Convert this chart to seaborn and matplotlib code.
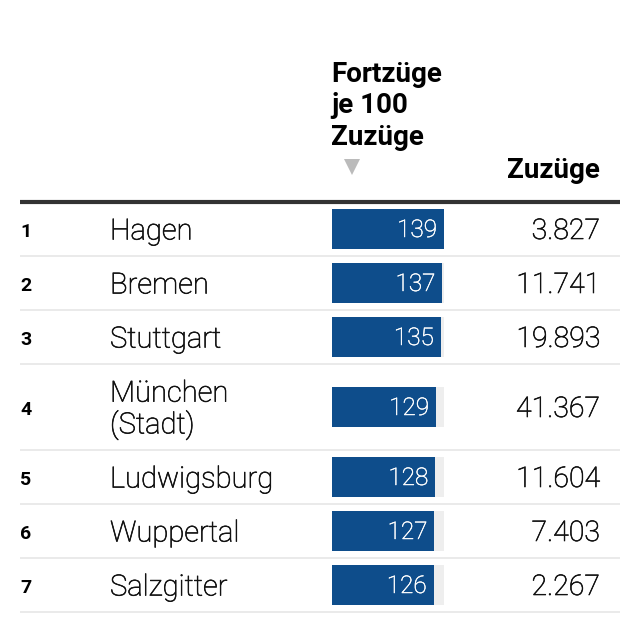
import matplotlib
matplotlib.use("Agg")
import matplotlib.pyplot as plt
import matplotlib.patheffects as pe
import seaborn as sns
import pandas as pd
import numpy as np

# ---- data ----
ranks = [1, 2, 3, 4, 5, 6, 7]
cities = ["Hagen", "Bremen", "Stuttgart", "München\n(Stadt)", "Ludwigsburg", "Wuppertal", "Salzgitter"]
fortzuege_je_100 = [139, 137, 135, 129, 128, 127, 126]
zuzuege = [3827, 11741, 19893, 41367, 11604, 7403, 2267]
header_ratio = ["Fortzüge", "je 100", "Zuzüge"]
header_zuzuege = "Zuzüge"

sns.set_style("white")
plt.rcParams["font.family"] = ["Roboto", "DejaVu Sans"]

W = H = 640
fig = plt.figure(figsize=(6.4, 6.4), dpi=100)

# layout (pixels)
top_line = 202
line_h = 32
pad = 22
heights = [pad + line_h * (c.count("\n") + 1) for c in cities]
tops = top_line + np.concatenate([[0], np.cumsum(heights)[:-1]])
bottoms = tops + np.array(heights)
centers = tops + np.array(heights) / 2.0

# overlay axes in pixel coordinates
ax = fig.add_axes([0, 0, 1, 1])
ax.set_xlim(0, W)
ax.set_ylim(H, 0)
ax.axis("off")

# bar axes
bx0, bx1 = 332, 444
bax = fig.add_axes([bx0 / W, 0, (bx1 - bx0) / W, 1])
df = pd.DataFrame({"y": centers, "val": fortzuege_je_100,
                   "track": [max(fortzuege_je_100)] * len(cities)})
min_gap = np.min(np.diff(np.unique(centers)))
bw = 40 / min_gap
sns.barplot(data=df, x="track", y="y", orient="h", native_scale=True, width=bw,
            color="#eeeeee", linewidth=0, errorbar=None, ax=bax, saturation=1)
sns.barplot(data=df, x="val", y="y", orient="h", native_scale=True, width=bw,
            color="#0e4d8b", linewidth=0, errorbar=None, ax=bax, saturation=1)
bax.set_xlim(0, max(fortzuege_je_100))
bax.set_ylim(H, 0)
bax.axis("off")

def thick(col, lw=0.45):
    return [pe.withStroke(linewidth=lw, foreground=col)]

for v, c in zip(fortzuege_je_100, centers):
    bax.text(v - 7 * max(fortzuege_je_100) / (bx1 - bx0), c + 8, str(v),
             ha="right", va="baseline", color="white", fontsize=17.5,
             fontweight="light", path_effects=thick("white", 0.35))

# header
for i, t in enumerate(header_ratio):
    ax.text(331, 82 + i * 31.3, t, ha="left", va="baseline", fontsize=20,
            fontweight="bold", color="#000000")
ax.plot([352], [167], marker="v", markersize=11, color="#bbbbbb", markeredgewidth=0)
ax.text(600, 178, header_zuzuege, ha="right", va="baseline", fontsize=20,
        fontweight="bold", color="#000000")

# lines
ax.plot([20, 620], [top_line, top_line], color="#333333", lw=3, solid_capstyle="butt")
for b in bottoms:
    ax.plot([20, 620], [b, b], color="#e8e8e8", lw=1.3, solid_capstyle="butt")

def fmt(n):
    return f"{n:,}".replace(",", ".")

for r, name, z, c in zip(ranks, cities, zuzuege, centers):
    ax.text(20, c + 8, str(r), ha="left", va="baseline", fontsize=14,
            fontweight="bold", color="#000000")
    nl = name.count("\n") + 1
    first_base = c + 10.5 - (nl - 1) * 31.7 / 2
    for j, part in enumerate(name.split("\n")):
        ax.text(110, first_base + j * 31.7, part, ha="left", va="baseline",
                fontsize=21, fontweight="light", color="#111111",
                path_effects=thick("#111111"))
    ax.text(600, c + 10, fmt(z), ha="right", va="baseline", fontsize=20.5,
            fontweight="light", color="#111111", path_effects=thick("#111111"))

fig.savefig("out.png", dpi=100, facecolor="white")
